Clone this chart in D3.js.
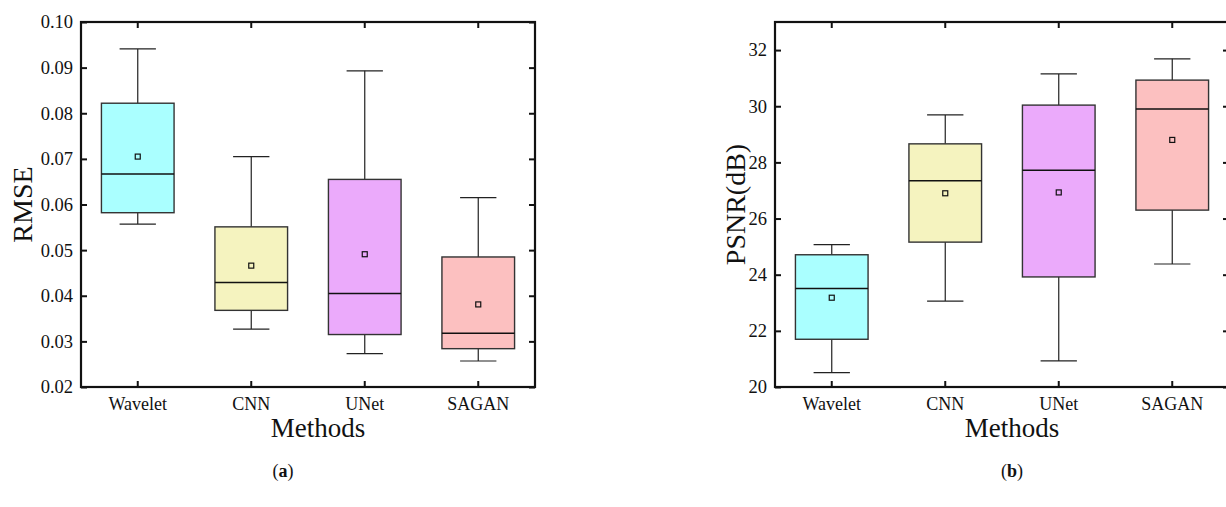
<!DOCTYPE html>
<html>
<head>
<meta charset="utf-8">
<script src="https://cdn.jsdelivr.net/npm/d3@7"></script>
<style>
  body { margin: 0; background: #fff; }
  svg { display: block; }
  text { font-family: "Liberation Serif", "Times New Roman", serif; fill: #111; }
</style>
</head>
<body>
<div id="chart"></div>
<script>
// data
const methods = ["Wavelet", "CNN", "UNet", "SAGAN"];
const fills = ["#aaffff", "#f5f3bf", "#ebaafb", "#fcc0c0"];

// [min, q1, median, q3, max]
const rmseBoxes = [
  [0.0557, 0.0582, 0.0667, 0.0822, 0.0941],
  [0.0327, 0.0368, 0.0429, 0.0551, 0.0705],
  [0.0273, 0.0315, 0.0405, 0.0655, 0.0893],
  [0.0257, 0.0284, 0.0318, 0.0485, 0.0615]
];
const rmseMeans = [0.0705, 0.0466, 0.0491, 0.0381];
const rmseTicks = [0.02, 0.03, 0.04, 0.05, 0.06, 0.07, 0.08, 0.09, 0.10];

const psnrBoxes = [
  [20.51, 21.70, 23.51, 24.71, 25.07],
  [23.06, 25.16, 27.35, 28.66, 29.69],
  [20.93, 23.92, 27.72, 30.04, 31.15],
  [24.38, 26.30, 29.90, 30.93, 31.69]
];
const psnrMeans = [23.18, 26.90, 26.93, 28.80];
const psnrTicks = [20, 22, 24, 26, 28, 30, 32];

const W = 1226, H = 507;
const svg = d3.select("#chart").append("svg")
  .attr("width", W).attr("height", H);

function drawPanel(opts) {
  const x = d3.scaleBand().domain(methods).range(opts.xRange).padding(0);
  const y = d3.scaleLinear().domain(opts.yDomain).range([387, 22]);
  const g = svg.append("g");
  const bw = x.bandwidth() * 0.64;
  const cw = x.bandwidth() * 0.32;
  const [x0, x1] = opts.xRange;

  // boxes
  const box = g.selectAll("g.box")
    .data(methods.map((m, i) => ({ m, s: opts.boxes[i], mean: opts.means[i], fill: fills[i] })))
    .join("g").attr("class", "box")
    .attr("transform", d => "translate(" + (x(d.m) + x.bandwidth() / 2) + ",0)");

  // whiskers
  box.append("line")
    .attr("y1", d => y(d.s[3])).attr("y2", d => y(d.s[4]))
    .attr("stroke", "#222").attr("stroke-width", 1.2);
  box.append("line")
    .attr("y1", d => y(d.s[0])).attr("y2", d => y(d.s[1]))
    .attr("stroke", "#222").attr("stroke-width", 1.2);
  box.append("line")
    .attr("x1", -cw / 2).attr("x2", cw / 2)
    .attr("y1", d => y(d.s[4])).attr("y2", d => y(d.s[4]))
    .attr("stroke", "#222").attr("stroke-width", 1.2);
  box.append("line")
    .attr("x1", -cw / 2).attr("x2", cw / 2)
    .attr("y1", d => y(d.s[0])).attr("y2", d => y(d.s[0]))
    .attr("stroke", "#222").attr("stroke-width", 1.2);

  box.append("rect")
    .attr("x", -bw / 2).attr("width", bw)
    .attr("y", d => y(d.s[3]))
    .attr("height", d => y(d.s[1]) - y(d.s[3]))
    .attr("fill", d => d.fill)
    .attr("stroke", "#333").attr("stroke-width", 1.4);

  // median
  box.append("line")
    .attr("x1", -bw / 2).attr("x2", bw / 2)
    .attr("y1", d => y(d.s[2])).attr("y2", d => y(d.s[2]))
    .attr("stroke", "#111").attr("stroke-width", 1.5);

  // mean marker
  box.append("rect")
    .attr("x", -2.5).attr("width", 5)
    .attr("y", d => y(d.mean) - 2.5).attr("height", 5)
    .attr("fill", "none")
    .attr("stroke", "#111").attr("stroke-width", 1.2);

  // axes, ticks pointing inwards
  const left = g.append("g").attr("transform", "translate(" + x0 + ",0)")
    .call(d3.axisLeft(y).tickValues(opts.ticks).tickFormat(opts.fmt)
      .tickSizeInner(-6).tickSizeOuter(0).tickPadding(8));
  const right = g.append("g").attr("transform", "translate(" + x1 + ",0)")
    .call(d3.axisRight(y).tickValues(opts.ticks).tickFormat("")
      .tickSizeInner(-6).tickSizeOuter(0));
  const bottom = g.append("g").attr("transform", "translate(0,387)")
    .call(d3.axisBottom(x).tickSizeInner(-6).tickSizeOuter(0).tickPadding(10));
  const top = g.append("g").attr("transform", "translate(0,22)")
    .call(d3.axisTop(x).tickFormat("").tickSizeInner(-6).tickSizeOuter(0));

  [left, right, bottom, top].forEach(a => {
    a.select(".domain").remove();
    a.selectAll(".tick line").attr("stroke", "#111").attr("stroke-width", 2);
    a.selectAll("text").attr("fill", "#111")
      .style("font-family", "'Liberation Serif', 'Times New Roman', serif");
  });
  left.selectAll("text").style("font-size", "18.5px");
  bottom.selectAll("text").style("font-size", "18px");

  // frame
  g.append("rect")
    .attr("x", x0).attr("y", 22)
    .attr("width", x1 - x0).attr("height", 387 - 22)
    .attr("fill", "none").attr("stroke", "#111").attr("stroke-width", 2.2);

  // axis titles
  g.append("text")
    .attr("transform", "translate(" + opts.yLabelX + "," + (387 + 22) / 2 + ") rotate(-90)")
    .attr("text-anchor", "middle")
    .style("font-size", "28px")
    .text(opts.yLabel);
  g.append("text")
    .attr("x", (x0 + x1) / 2 + 10).attr("y", 437)
    .attr("text-anchor", "middle")
    .style("font-size", "27px")
    .text("Methods");

  // sub caption
  const cap = g.append("text")
    .attr("x", opts.capX).attr("y", 477)
    .attr("text-anchor", "middle")
    .style("font-size", "18px");
  cap.append("tspan").text("(");
  cap.append("tspan").style("font-weight", "bold").text(opts.cap);
  cap.append("tspan").text(")");
}

drawPanel({
  xRange: [81, 535], yDomain: [0.02, 0.10],
  boxes: rmseBoxes, means: rmseMeans, ticks: rmseTicks,
  fmt: d3.format(".2f"), yLabel: "RMSE", yLabelX: 32,
  cap: "a", capX: 283
});
drawPanel({
  xRange: [775, 1229], yDomain: [20, 33],
  boxes: psnrBoxes, means: psnrMeans, ticks: psnrTicks,
  fmt: d3.format("d"), yLabel: "PSNR(dB)", yLabelX: 745,
  cap: "b", capX: 1012
});
</script>
</body>
</html>
